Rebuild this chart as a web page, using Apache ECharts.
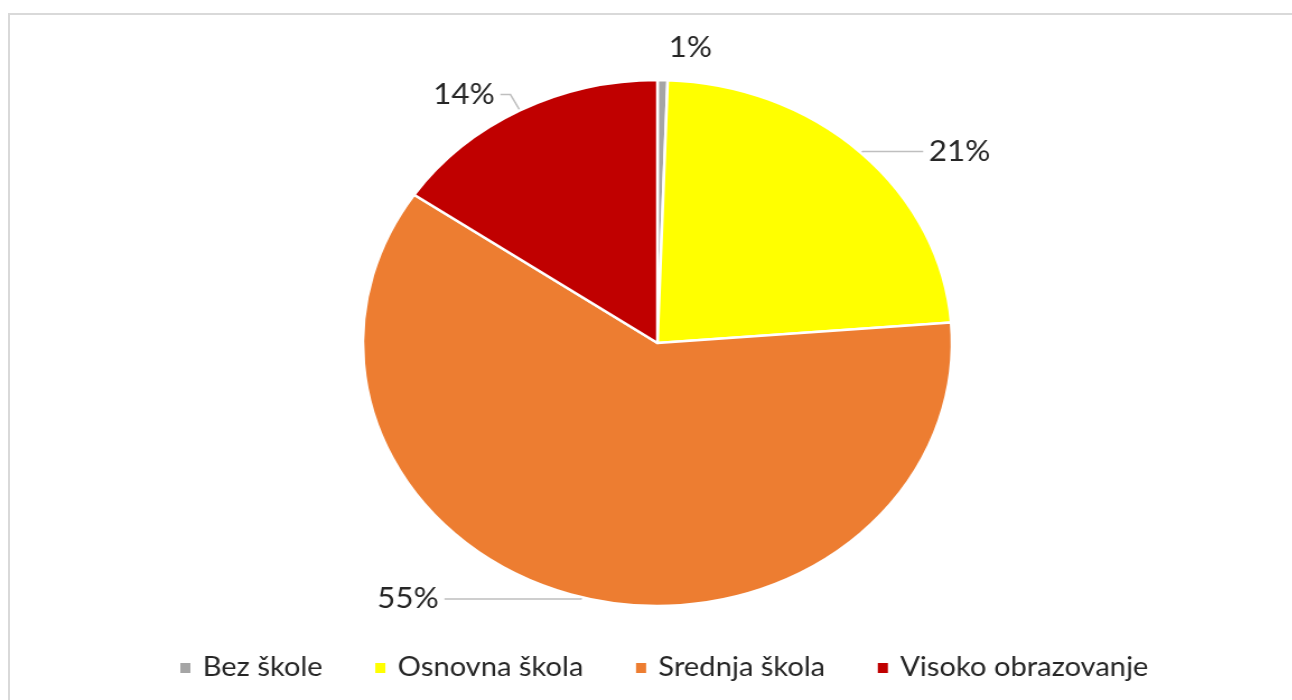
<!DOCTYPE html>
<html>
<head>
<meta charset="utf-8">
<script src="https://cdn.jsdelivr.net/npm/echarts@6/dist/echarts.min.js"></script>
<style>
  html, body { margin: 0; padding: 0; background: #fff; }
  .page { position: relative; width: 1292px; height: 700px; overflow: hidden; }
  .frame { position: absolute; left: 8px; top: 13px; width: 1300px; height: 700px;
           border: 2px solid #d9d9d9; box-sizing: border-box; }
  /* the original picture is stretched sideways, so the chart is too */
  #chartPie { position: absolute; left: 0; top: 0; width: 1154px; height: 700px;
              transform: scaleX(1.12); transform-origin: 0 0; }
</style>
</head>
<body>
<div class="page">
  <div class="frame"></div>
  <div id="chartPie"></div>
</div>
<script>
  // podaci
  const categories = ['Bez škole', 'Osnovna škola', 'Srednja škola', 'Visoko obrazovanje'];
  const values = [0.5, 21, 55, 14];
  const colors = ['#a5a5a5', '#ffff00', '#ed7d31', '#c00000'];
  // duzine linija do natpisa (prvi i drugi segment)
  const lineLen = [32, 2, 2, 18];
  const lineLen2 = [0, 54, 122, 9];

  const chartPie = echarts.init(document.getElementById('chartPie'));

  const option = {
    animation: false,
    color: colors,
    legend: {
      bottom: 14,
      left: 154,
      icon: 'rect',
      itemWidth: 11,
      itemHeight: 12,
      itemGap: 45,
      textStyle: { fontFamily: 'Lato', fontSize: 26, color: '#262626', padding: [0, 0, 0, 5] },
      data: categories
    },
    series: [{
      type: 'pie',
      center: [587, 343],
      radius: 263,
      startAngle: 90,
      clockwise: true,
      avoidLabelOverlap: false,
      itemStyle: { borderColor: '#fff', borderWidth: 2.5 },
      label: {
        show: true,
        position: 'outside',
        fontFamily: 'Lato',
        fontSize: 28,
        color: '#262626',
        formatter: p => Math.round(p.value) + '%'
      },
      labelLine: {
        show: true,
        lineStyle: { color: '#bfbfbf', width: 1.5 }
      },
      data: categories.map((name, i) => ({
        name: name,
        value: values[i],
        labelLine: { length: lineLen[i], length2: lineLen2[i], show: i !== 0 }
      }))
    }]
  };

  chartPie.setOption(option);
</script>
</body>
</html>
